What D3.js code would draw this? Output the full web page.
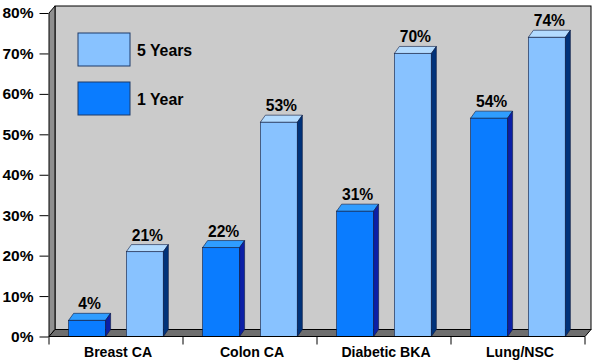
<!DOCTYPE html>
<html>
<head>
<meta charset="utf-8">
<script src="https://cdn.jsdelivr.net/npm/d3@7"></script>
<style>
  body { margin: 0; background: #fff; }
  text { font-family: "Liberation Sans", Arial, sans-serif; font-weight: bold; fill: #000; }
</style>
</head>
<body>
<div id="chart"></div>
<script>
// chart data
const categories = ["Breast CA", "Colon CA", "Diabetic BKA", "Lung/NSC"];
const seriesNames = ["1 Year", "5 Years"];
const oneYear = [4, 22, 31, 54];
const fiveYears = [21, 53, 70, 74];
const yTicks = [0, 10, 20, 30, 40, 50, 60, 70, 80];
const legendOrder = ["5 Years", "1 Year"];

const width = 600, height = 361;
const margin = {top: 13, right: 9, bottom: 24.5, left: 49};
const wallDx = 6, wallDy = 7;     // depth of the chart box
const barDx = 5, barDy = 7;       // depth of each bar

const colors = {
  "1 Year":  {front: "#0a7cff", top: "#2f9dff", side: "#0b1fa6"},
  "5 Years": {front: "#88c2ff", top: "#b3dbff", side: "#00327a"}
};

const svg = d3.select("#chart").append("svg")
    .attr("width", width)
    .attr("height", height);

const x0 = margin.left, x1 = width - margin.right;
const yBase = height - margin.bottom;

const x = d3.scaleBand()
    .domain(categories)
    .range([x0, x1 - wallDx]);

const xs = d3.scaleBand()
    .domain(seriesNames)
    .range([0, x.bandwidth()])
    .paddingInner(0.36)
    .paddingOuter(0.34);

const y = d3.scaleLinear()
    .domain([0, 80])
    .range([yBase, margin.top]);

const xr = x.range()[1];
const yTop = y(80);

// back wall, side wall, floor
svg.append("rect")
    .attr("x", x0 + wallDx)
    .attr("y", yTop - wallDy)
    .attr("width", xr - x0)
    .attr("height", yBase - yTop)
    .attr("fill", "#cbcbcb")
    .attr("stroke", "#000")
    .attr("stroke-width", 1);

const poly = pts => pts.map(p => p.join(",")).join(" ");

svg.append("polygon")
    .attr("points", poly([[x0, yTop], [x0 + wallDx, yTop - wallDy], [x0 + wallDx, yBase - wallDy], [x0, yBase]]))
    .attr("fill", "#8f8f8f")
    .attr("stroke", "#000")
    .attr("stroke-width", 1);

svg.append("polygon")
    .attr("points", poly([[x0, yBase], [x0 + wallDx, yBase - wallDy], [xr + wallDx, yBase - wallDy], [xr, yBase]]))
    .attr("fill", "#6e6e6e")
    .attr("stroke", "#000")
    .attr("stroke-width", 1);

// bars
const bars = [];
categories.forEach((c, i) => {
  bars.push({cat: c, series: "1 Year", value: oneYear[i]});
  bars.push({cat: c, series: "5 Years", value: fiveYears[i]});
});

const g = svg.selectAll(".bar")
  .data(bars)
  .join("g")
    .attr("class", "bar");

g.each(function(d) {
  const sel = d3.select(this);
  const bx = x(d.cat) + xs(d.series);
  const bw = xs.bandwidth();
  const by = y(d.value);
  const col = colors[d.series];
  const stroke = "#0b1a40";

  sel.append("rect")
      .attr("x", bx).attr("y", by)
      .attr("width", bw).attr("height", yBase - by)
      .attr("fill", col.front)
      .attr("stroke", stroke).attr("stroke-width", 0.6);

  sel.append("polygon")
      .attr("points", poly([[bx, by], [bx + barDx, by - barDy], [bx + bw + barDx, by - barDy], [bx + bw, by]]))
      .attr("fill", col.top)
      .attr("stroke", stroke).attr("stroke-width", 0.6);

  sel.append("polygon")
      .attr("points", poly([[bx + bw, by], [bx + bw + barDx, by - barDy], [bx + bw + barDx, yBase - barDy], [bx + bw, yBase]]))
      .attr("fill", col.side)
      .attr("stroke", stroke).attr("stroke-width", 0.6);

  sel.append("text")
      .attr("transform", `translate(${bx + (bw + barDx) / 2},${by - barDy - 4}) scale(0.95,1)`)
      .attr("text-anchor", "middle")
      .attr("font-size", 16.5)
      .text(d.value + "%");
});

// y axis
const yAxis = svg.append("g")
    .attr("transform", `translate(${x0 - 0.5},0)`)
    .call(d3.axisLeft(y).tickValues(yTicks).tickFormat(d => d + "%").tickSize(9).tickSizeOuter(0));
yAxis.select(".domain").remove();
yAxis.selectAll("line").attr("stroke", "#000");
yAxis.selectAll("text")
    .attr("font-size", 15.5)
    .attr("font-family", "Liberation Sans, Arial, sans-serif")
    .attr("x", -15);

// x axis: category labels and tick marks at band edges
svg.append("line")
    .attr("x1", x0).attr("x2", xr)
    .attr("y1", yBase).attr("y2", yBase)
    .attr("stroke", "#000");

const edges = categories.map(c => x(c)).concat([xr]);
svg.selectAll(".xtick")
  .data(edges)
  .join("line")
    .attr("class", "xtick")
    .attr("x1", d => d).attr("x2", d => d)
    .attr("y1", yBase).attr("y2", yBase + 8)
    .attr("stroke", "#000");

svg.selectAll(".xlabel")
  .data(categories)
  .join("text")
    .attr("class", "xlabel")
    .attr("transform", d => `translate(${x(d) + x.bandwidth() / 2 + 2},${yBase + 20}) scale(0.91,1)`)
    .attr("text-anchor", "middle")
    .attr("font-size", 15.5)
    .text(d => d);

// legend
const legend = svg.selectAll(".legend")
  .data(legendOrder)
  .join("g")
    .attr("class", "legend")
    .attr("transform", (d, i) => `translate(78,${33 + i * 49})`);

legend.append("rect")
    .attr("width", 52).attr("height", 33)
    .attr("fill", d => colors[d].front)
    .attr("stroke", "#1c3a6a").attr("stroke-width", 1);

legend.append("text")
    .attr("transform", "translate(59,23) scale(0.96,1)")
    .attr("font-size", 16.5)
    .text(d => d);
</script>
</body>
</html>
